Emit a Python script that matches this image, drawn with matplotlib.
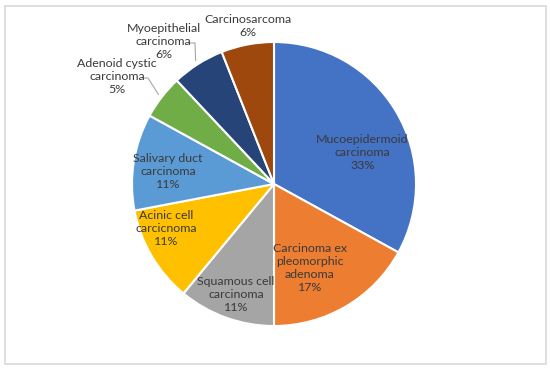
import matplotlib
matplotlib.use("Agg")
import matplotlib.pyplot as plt
import numpy as np
from matplotlib.patches import Rectangle

categories = ["Mucoepidermoid\ncarcinoma", "Carcinoma ex\npleomorphic\nadenoma",
              "Squamous cell\ncarcinoma", "Acinic cell\ncarcicnoma",
              "Salivary duct\ncarcinoma", "Adenoid cystic\ncarcinoma",
              "Myoepithelial\ncarcinoma", "Carcinosarcoma"]
values = [33, 17, 11, 11, 11, 5, 6, 6]
colors = ["#4472C4", "#ED7D31", "#A5A5A5", "#FFC000", "#5B9BD5", "#70AD47", "#264478", "#9E480E"]

# label layout: (radius factor, angle in degrees) relative to pie centre
label_pos = [(0.66, 19.4), (0.64, -66.8), (0.82, -109.0), (0.82, -157.6),
             (0.75, 173.5), (1.34, 145.5), (1.27, 127.8), (1.13, 99.3)]

W, H = 550, 370
fig = plt.figure(figsize=(W / 100, H / 100), dpi=100)
fig.patches.append(Rectangle((4.5 / W, 6.5 / H), 541 / W, 358 / H, transform=fig.transFigure,
                             fill=False, edgecolor="#D9D9D9", linewidth=1.2))
cx, cy, R = 274, 370 - 184, 142
ax = fig.add_axes([(cx - R) / W, (cy - R) / H, 2 * R / W, 2 * R / H])
wedges, _ = ax.pie(values, colors=colors, startangle=90, counterclock=False,
                   wedgeprops=dict(edgecolor="white", linewidth=1.5))
ax.set_xlim(-1, 1)
ax.set_ylim(-1, 1)
ax.set_aspect("equal")
ax.axis("off")

font = dict(family=["Lato", "DejaVu Sans"], fontsize=8.9, color="#3A3A3A",
            ha="center", va="center", linespacing=1.22)
for i, (cat, v) in enumerate(zip(categories, values)):
    r, a = label_pos[i]
    x, y = r * np.cos(np.radians(a)), r * np.sin(np.radians(a))
    ax.text(x, y, f"{cat}\n{v}%", clip_on=False, **font)


def px(xp, yp):
    return (xp - cx) / R, ((370 - yp) - cy) / R


def leader(p0, p1, ang):
    a = np.radians(ang)
    x0, y0 = px(*p0)
    x1, y1 = px(*p1)
    ax.plot([x0, x1, 1.03 * np.cos(a)], [y0, y1, 1.03 * np.sin(a)],
            color="#A6A6A6", lw=0.8, clip_on=False)


leader((143, 78), (148, 78), 142.2)
leader((189, 43), (195, 43), 122.4)

fig.savefig("out.png", dpi=100)
